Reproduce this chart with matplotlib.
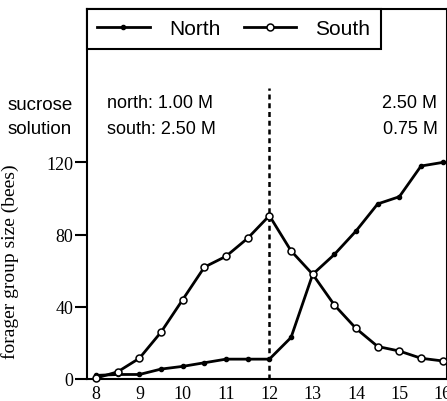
import matplotlib.pyplot as plt

# time of day (h)
hours = [8, 8.5, 9, 9.5, 10, 10.5, 11, 11.5, 12, 12.5, 13, 13.5, 14, 14.5, 15, 15.5, 16]
north = [2, 2.5, 2.5, 5.5, 7, 9, 11, 11, 11, 23, 58, 69, 82, 97, 101, 118, 120]
south = [0.5, 4, 11.5, 26, 44, 62, 68, 78, 90.5, 71, 58, 41, 28, 18, 15.5, 11.5, 10]

y_ticks = [0, 40, 80, 120]
x_ticks = [8, 9, 10, 11, 12, 13, 14, 15, 16]

serif = "Liberation Serif"
sans = "Liberation Sans"

fig = plt.figure(figsize=(4.47, 4.02), dpi=100)
ax = fig.add_axes([87 / 447, 22 / 402, 1 - 87 / 447, 370 / 402])

ax.plot(hours, north, color="black", lw=2, marker="o", ms=3,
        mfc="black", mec="black", label="North", clip_on=False, zorder=3)
ax.plot(hours, south, color="black", lw=2, marker="o", ms=5,
        mfc="white", mec="black", mew=1.1, label="South", clip_on=False, zorder=3)

# switch of feeder concentrations at noon
ax.vlines(12, 0, 161, colors="black", linestyles=(0, (2, 1.5)), lw=1.8)

ax.set_xlim(7.79, 16.1)
ax.set_ylim(0, 205)
ax.set_xticks(x_ticks)
ax.set_yticks(y_ticks)
ax.tick_params(axis="y", direction="out", length=9, width=1.5, labelsize=13, pad=1)
ax.tick_params(axis="x", length=0, labelsize=13, pad=4)
for lab in ax.get_xticklabels() + ax.get_yticklabels():
    lab.set_fontfamily(serif)
for s in ax.spines.values():
    s.set_linewidth(1.5)

ax.set_ylabel("forager group size (bees)", fontsize=14, family=serif)
ax.yaxis.set_label_coords(-0.19, 0.32)

ax.text(8.25, 153, "north: 1.00 M", fontsize=13, family=sans, va="center")
ax.text(8.25, 139, "south: 2.50 M", fontsize=13, family=sans, va="center")
ax.text(15.88, 153, "2.50 M", fontsize=13, family=sans, va="center", ha="right")
ax.text(15.88, 139, "0.75 M", fontsize=13, family=sans, va="center", ha="right")

fig.text(40 / 447, 1 - 105 / 402, "sucrose", fontsize=13.5, family=sans, ha="center", va="center")
fig.text(40 / 447, 1 - 130 / 402, "solution", fontsize=13.5, family=sans, ha="center", va="center")

leg = ax.legend(loc="upper left", bbox_to_anchor=(0, 1), borderaxespad=0, ncol=2,
                frameon=True, fancybox=False, edgecolor="black", framealpha=1,
                prop={"family": sans, "size": 15}, handlelength=2.5,
                columnspacing=1.1, borderpad=0.5, handletextpad=0.95)
leg.get_frame().set_linewidth(1.5)

fig.savefig("out.png", dpi=100)
